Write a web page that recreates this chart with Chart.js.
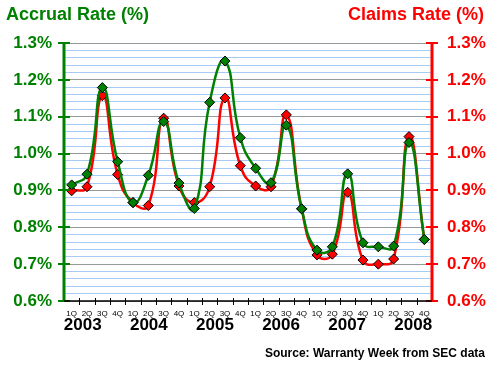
<!DOCTYPE html>
<html>
<head>
<meta charset="utf-8">
<script src="https://cdn.jsdelivr.net/npm/chart.js@4/dist/chart.umd.min.js"></script>
<style>
  html, body { margin: 0; padding: 0; background: #fff; }
  #wrap { width: 500px; height: 365px; position: relative; }
</style>
</head>
<body>
<div id="wrap"><canvas id="chart" width="500" height="365"></canvas></div>
<script>
// quarters 1Q 2003 .. 4Q 2008
const quarters = [];
const years = ['2003', '2004', '2005', '2006', '2007', '2008'];
years.forEach(() => quarters.push('1Q', '2Q', '3Q', '4Q'));

const accrualRate = [0.915, 0.944, 1.179, 0.978, 0.867, 0.941, 1.087, 0.920,
                     0.851, 1.139, 1.251, 1.043, 0.960, 0.921, 1.077, 0.850,
                     0.738, 0.747, 0.945, 0.758, 0.747, 0.749, 1.030, 0.767];
const claimsRate  = [0.899, 0.910, 1.157, 0.943, 0.867, 0.859, 1.096, 0.912,
                     0.867, 0.910, 1.151, 0.967, 0.912, 0.910, 1.105, 0.850,
                     0.725, 0.727, 0.895, 0.711, 0.700, 0.714, 1.046, 0.767];

const yMin = 0.6, yMax = 1.3;

const GREEN = '#008000';
const RED = '#ff0000';
const FONT = '"Liberation Sans", Arial, sans-serif';

function isMajor(v) {
    return Math.abs(Math.round(v * 10) - v * 10) < 1e-6;
}

// titles, years, source, and crossing tick marks
const decorations = {
    id: 'decorations',
    afterDraw(chart) {
        const ctx = chart.ctx;
        const area = chart.chartArea;
        const yl = chart.scales.y;
        ctx.save();

        // axis lines
        ctx.lineWidth = 3;
        ctx.strokeStyle = GREEN;
        ctx.beginPath(); ctx.moveTo(area.left, area.top); ctx.lineTo(area.left, area.bottom + 1); ctx.stroke();
        ctx.strokeStyle = RED;
        ctx.beginPath(); ctx.moveTo(area.right, area.top); ctx.lineTo(area.right, area.bottom + 1); ctx.stroke();

        // major y ticks crossing the axes
        ctx.lineWidth = 2;
        for (let v = yMin; v <= yMax + 1e-9; v += 0.1) {
            const py = Math.round(yl.getPixelForValue(v));
            ctx.strokeStyle = GREEN;
            ctx.beginPath(); ctx.moveTo(area.left - 6, py); ctx.lineTo(area.left + 6, py); ctx.stroke();
            ctx.strokeStyle = RED;
            ctx.beginPath(); ctx.moveTo(area.right - 6, py); ctx.lineTo(area.right + 6, py); ctx.stroke();
        }

        // x axis line and quarter ticks
        ctx.strokeStyle = '#000';
        ctx.lineWidth = 1.5;
        ctx.beginPath(); ctx.moveTo(area.left, area.bottom); ctx.lineTo(area.right, area.bottom); ctx.stroke();
        ctx.lineWidth = 1;
        const step = (area.right - area.left) / quarters.length;
        for (let i = 1; i < quarters.length; i++) {
            const px = Math.round(area.left + i * step) + 0.5;
            ctx.beginPath(); ctx.moveTo(px, area.bottom - 3); ctx.lineTo(px, area.bottom + 4); ctx.stroke();
        }

        // year labels (spread slightly wider than the quarter groups, as in the original)
        ctx.fillStyle = '#000';
        ctx.font = 'bold 17px ' + FONT;
        ctx.textAlign = 'center';
        ctx.textBaseline = 'alphabetic';
        const mid = (area.left + area.right) / 2;
        const yearGap = step * 4.31;
        years.forEach((yr, i) => {
            ctx.fillText(yr, mid + (i - (years.length - 1) / 2) * yearGap, area.bottom + 29);
        });

        // titles
        ctx.font = 'bold 18px ' + FONT;
        ctx.textAlign = 'left';
        ctx.fillStyle = GREEN;
        ctx.fillText('Accrual Rate (%)', 6, 20);
        ctx.textAlign = 'right';
        ctx.fillStyle = RED;
        ctx.fillText('Claims Rate (%)', 484, 20);

        // source
        ctx.font = 'bold 12px ' + FONT;
        ctx.fillStyle = '#000';
        ctx.fillText('Source: Warranty Week from SEC data', 485, 357);
        ctx.restore();
    }
};

const yTicks = (color, pad) => ({
    stepSize: 0.02,
    autoSkip: false,
    color: color,
    padding: pad,
    font: { family: FONT, size: 17, weight: 'bold' },
    callback: v => isMajor(v) ? v.toFixed(1) + '%' : ''
});

new Chart(document.getElementById('chart'), {
    type: 'line',
    data: {
        labels: quarters,
        datasets: [{
            label: 'Accrual Rate',
            data: accrualRate,
            yAxisID: 'y',
            borderColor: GREEN,
            backgroundColor: GREEN,
            borderWidth: 2.5,
            tension: 0.5,
            pointStyle: 'rectRot',
            pointRadius: 5,
            pointBackgroundColor: GREEN,
            pointBorderColor: '#000',
            pointBorderWidth: 1
        }, {
            label: 'Claims Rate',
            data: claimsRate,
            yAxisID: 'y1',
            borderColor: RED,
            backgroundColor: RED,
            borderWidth: 2.5,
            tension: 0.5,
            pointStyle: 'rectRot',
            pointRadius: 5,
            pointBackgroundColor: RED,
            pointBorderColor: '#000',
            pointBorderWidth: 1
        }]
    },
    options: {
        responsive: false,
        animation: false,
        layout: { padding: { top: 43, left: 0, right: 0, bottom: 0 } },
        plugins: { legend: { display: false }, tooltip: { enabled: false } },
        scales: {
            x: {
                offset: true,
                grid: { display: false, drawTicks: false },
                border: { display: false },
                ticks: {
                    color: '#000',
                    padding: 8,
                    maxRotation: 0,
                    autoSkip: false,
                    font: { family: FONT, size: 8 }
                },
                afterFit: s => { s.height = 64; }
            },
            y: {
                position: 'left',
                min: yMin, max: yMax,
                ticks: yTicks(GREEN, 12),
                grid: {
                    drawTicks: false,
                    color: c => isMajor(c.tick.value) ? '#999999' : '#a6ccf5',
                    lineWidth: 1
                },
                border: { display: false },
                afterFit: s => { s.width = 64; }
            },
            y1: {
                position: 'right',
                min: yMin, max: yMax,
                ticks: yTicks(RED, 15),
                grid: { display: false, drawTicks: false },
                border: { display: false },
                afterFit: s => { s.width = 68; }
            }
        }
    },
    plugins: [decorations]
});
</script>
</body>
</html>
